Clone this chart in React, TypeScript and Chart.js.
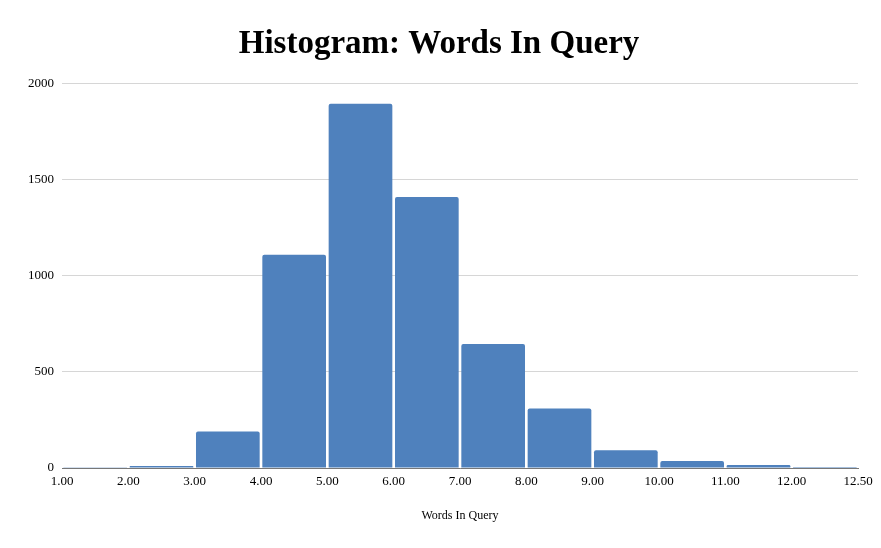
import React, { useEffect, useRef } from "react";
import { Chart, registerables } from "chart.js";

Chart.register(...registerables);

const binStarts = [1, 2, 3, 4, 5, 6, 7, 8, 9, 10, 11, 12];
const counts = [1, 10, 190, 1110, 1895, 1410, 645, 310, 93, 36, 15, 5];
const xTickLabels = ["1.00", "2.00", "3.00", "4.00", "5.00", "6.00", "7.00", "8.00", "9.00", "10.00", "11.00", "12.00", "12.50"];
const yTicks = [0, 500, 1000, 1500, 2000];

const serif = "'Liberation Serif', 'Times New Roman', serif";

export default function App() {
  const ref = useRef<HTMLCanvasElement>(null);
  useEffect(() => {
    document.body.style.margin = "0";
    const ctx = ref.current!.getContext("2d")!;
    const chart = new Chart(ctx, {
      type: "bar",
      data: {
        datasets: [
          {
            data: binStarts.map((s, i) => ({ x: s + 0.5, y: counts[i] })),
            backgroundColor: "#4f81bd",
            borderWidth: 0,
            borderRadius: { topLeft: 2, topRight: 2, bottomLeft: 0, bottomRight: 0 },
            borderSkipped: "bottom",
            barPercentage: 0.96,
            categoryPercentage: 1,
          },
        ],
      },
      options: {
        animation: false,
        responsive: false,
        maintainAspectRatio: false,
        layout: { padding: { left: 20, right: 23, top: 8, bottom: 25 } },
        plugins: {
          legend: { display: false },
          tooltip: { enabled: false },
          title: {
            display: true,
            text: "Histogram: Words In Query",
            color: "#000",
            font: { family: serif, size: 33, weight: "bold" },
            padding: { top: 17, bottom: 19 },
          },
        },
        scales: {
          x: {
            type: "linear",
            min: binStarts[0],
            max: binStarts[binStarts.length - 1] + 1,
            offset: false,
            grid: { display: false, drawTicks: false },
            border: { display: true, color: "#777", width: 1 },
            afterBuildTicks: (axis: any) => {
              axis.ticks = xTickLabels.map((_, i) => ({ value: binStarts[0] + i }));
            },
            ticks: {
              color: "#000",
              padding: 6,
              maxRotation: 0,
              autoSkip: false,
              font: { family: serif, size: 13 },
              callback: (_v: any, i: number) => xTickLabels[i],
            },
            title: {
              display: true,
              text: "Words In Query",
              color: "#000",
              font: { family: serif, size: 12 },
              padding: { top: 13, bottom: 0 },
            },
          },
          y: {
            min: 0,
            max: yTicks[yTicks.length - 1],
            afterBuildTicks: (axis: any) => {
              axis.ticks = yTicks.map((v) => ({ value: v }));
            },
            grid: { color: "#d6d6d6", drawTicks: false },
            border: { display: false },
            ticks: {
              color: "#000",
              padding: 8,
              font: { family: serif, size: 13 },
              callback: (v: any) => String(v),
            },
          },
        },
      },
    } as any);
    return () => chart.destroy();
  }, []);
  return <canvas ref={ref} width={881} height={548} style={{ display: "block" }} />;
}
